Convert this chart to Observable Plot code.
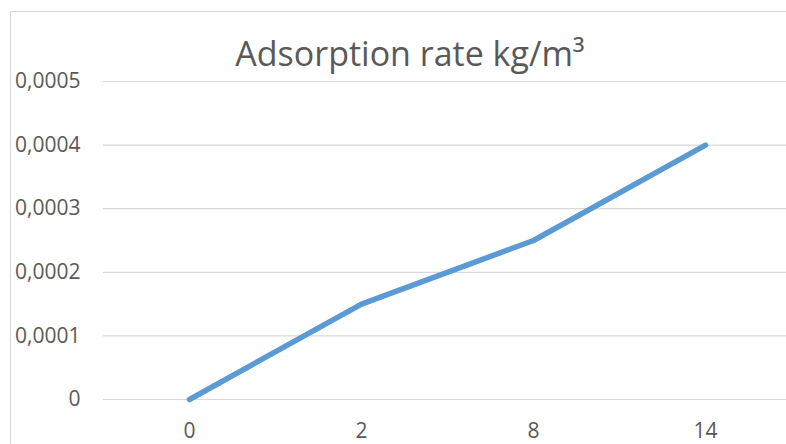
<!DOCTYPE html>
<html>
<head>
<meta charset="utf-8">
<script src="https://cdn.jsdelivr.net/npm/d3@7"></script>
<script src="https://cdn.jsdelivr.net/npm/@observablehq/plot@0.6"></script>
<style>
  html, body { margin: 0; padding: 0; overflow: hidden; background: white; }
  body { width: 786px; height: 444px; position: relative; }
  #frame {
    position: absolute; left: 10px; top: 11px; width: 800px; height: 460px;
    border: 1px solid #d9d9d9; box-sizing: border-box; z-index: 2;
  }
  #title {
    position: absolute; left: 10px; top: 0; width: 800px;
    text-align: center; font-family: "Open Sans", sans-serif; font-size: 34px;
    color: #595959; padding-top: 36px; box-sizing: border-box; line-height: 1;
  }
  #chart { position: absolute; left: 0; top: 60px; }
</style>
</head>
<body>
<div id="frame"></div>
<div id="title">Adsorption rate kg/m³</div>
<div id="chart"></div>
<script>
// Adsorption rate by day
const days = ["0", "2", "8", "14"];
const rates = [0, 0.00015, 0.00025, 0.0004];
const yTicks = [0, 0.0001, 0.0002, 0.0003, 0.0004, 0.0005];

const data = days.map((d, i) => ({day: d, rate: rates[i]}));
const fmt = v => v === 0 ? "0" : v.toFixed(4).replace(".", ",");

const chart = Plot.plot({
  width: 792,
  height: 384,
  marginLeft: 103,
  marginRight: 1,
  marginTop: 21,
  marginBottom: 45,
  style: {fontFamily: "Open Sans", fontSize: "21px", color: "#595959", background: "transparent", overflow: "visible"},
  x: {type: "point", domain: days, padding: 0.5, label: null},
  y: {domain: [0, 0.0005], label: null},
  marks: [
    Plot.gridY(yTicks, {stroke: "#d9d9d9", strokeOpacity: 1, strokeWidth: 1.2}),
    Plot.axisY(yTicks, {tickSize: 0, tickPadding: 23, tickFormat: fmt, fill: "#595959"}),
    Plot.axisX({tickSize: 0, tickPadding: 24, fill: "#595959"}),
    Plot.line(data, {x: "day", y: "rate", stroke: "#5B9BD5", strokeWidth: 5.5, strokeLinecap: "round", strokeLinejoin: "round"})
  ]
});
chart.style.maxWidth = "none";
document.getElementById("chart").appendChild(chart);
</script>
</body>
</html>
